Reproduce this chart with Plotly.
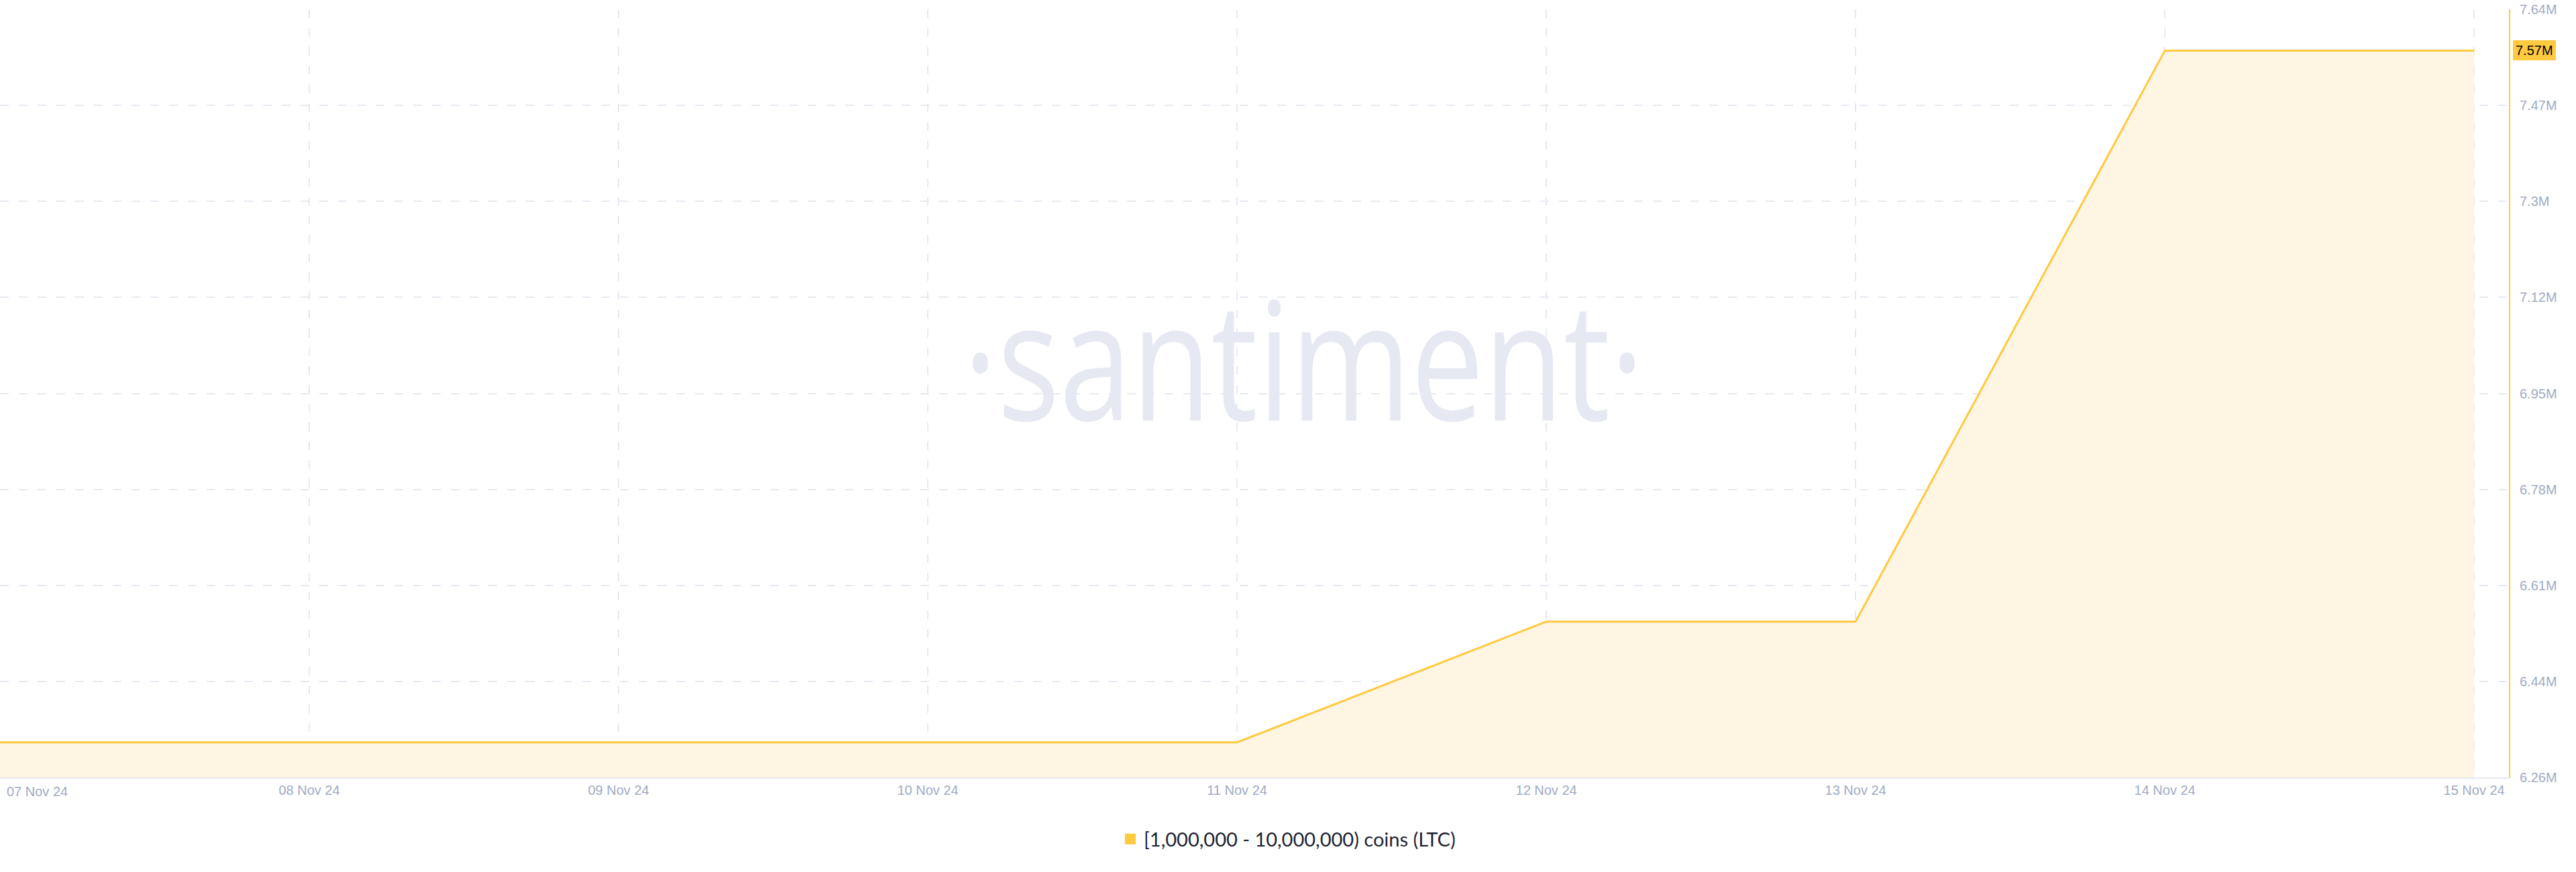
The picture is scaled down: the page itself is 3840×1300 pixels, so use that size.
import plotly.graph_objects as go

# ---- data ----
dates = ["2024-11-07", "2024-11-08", "2024-11-09", "2024-11-10", "2024-11-11",
         "2024-11-12", "2024-11-13", "2024-11-14", "2024-11-15"]
holders = [6.323e6, 6.323e6, 6.323e6, 6.323e6, 6.323e6,
           6.540e6, 6.540e6, 7.566e6, 7.566e6]
series_name = "[1,000,000 - 10,000,000) coins (LTC)"
last_label = "7.57M"

y_tick_vals = [6.26e6, 6.4325e6, 6.605e6, 6.7775e6, 6.95e6, 7.1225e6, 7.295e6, 7.4675e6, 7.64e6]
y_tick_text = ["6.26M", "6.44M", "6.61M", "6.78M", "6.95M", "7.12M", "7.3M", "7.47M", "7.64M"]
x_tick_vals = dates
x_tick_text = ["", "08 Nov 24", "09 Nov 24", "10 Nov 24", "11 Nov 24",
               "12 Nov 24", "13 Nov 24", "14 Nov 24", "15 Nov 24"]
first_tick_text = "07 Nov 24"

# ---- style ----
GOLD = "#FFC940"
FILL = "#FEF5E2"
GRID = "#E6E9F2"
TICK = "#A0AAC4"
TICK_FONT = "Liberation Sans, Arial, sans-serif"

fig = go.Figure()
fig.add_trace(go.Scatter(
    x=dates, y=holders, mode="lines",
    line=dict(color=GOLD, width=3),
    fill="tozeroy", fillcolor=FILL,
    showlegend=False, hoverinfo="skip",
))
fig.add_trace(go.Scatter(
    x=[None], y=[None], mode="markers",
    marker=dict(symbol="square", size=18, color=GOLD),
    name=series_name, showlegend=True,
))

fig.update_layout(
    width=3840, height=1300,
    paper_bgcolor="white", plot_bgcolor="white",
    margin=dict(l=0, r=100, t=14, b=141),
    showlegend=True,
    legend=dict(
        orientation="h", xref="container", yref="container",
        x=0.5, xanchor="center", y=1 - 1251 / 1300, yanchor="middle",
        font=dict(family="Lato, sans-serif", size=29, color="#1F2433"),
        itemsizing="trace",
    ),
    xaxis=dict(
        type="date",
        range=["2024-11-07 00:00", "2024-11-15 02:42"],
        tickvals=x_tick_vals, ticktext=x_tick_text,
        showgrid=True, gridcolor=GRID, gridwidth=2, griddash="13px,15px",
        showline=True, linecolor="#E3E7F0", linewidth=2,
        ticks="", tickfont=dict(family=TICK_FONT, size=20, color=TICK),
        zeroline=False,
    ),
    yaxis=dict(
        side="right",
        range=[6.26e6, 7.64e6],
        tickvals=y_tick_vals, ticktext=y_tick_text,
        showgrid=True, gridcolor=GRID, gridwidth=2, griddash="13px,15px",
        showline=True, linecolor=GOLD, linewidth=2,
        ticks="", ticklabelstandoff=10,
        tickfont=dict(family=TICK_FONT, size=20, color=TICK),
        zeroline=False,
    ),
)

# first date label, kept inside the figure
fig.add_annotation(
    x=dates[0], xref="x", y=0, yref="paper", yshift=-8,
    text=first_tick_text, showarrow=False,
    xanchor="left", yanchor="top", xshift=8,
    font=dict(family=TICK_FONT, size=20, color=TICK),
)

# last-value badge
fig.add_annotation(
    x=1, xref="paper", xshift=6, xanchor="left",
    y=holders[-1], yref="y", yanchor="middle",
    text=last_label, showarrow=False,
    bgcolor=GOLD, borderwidth=0, borderpad=4,
    font=dict(family=TICK_FONT, size=20, color="#000000"),
)

# watermark
fig.add_annotation(
    x=1943 / 3740, xref="paper", y=0.5475, yref="paper",
    xanchor="center", yanchor="middle",
    text="·santiment·", showarrow=False,
    font=dict(family="Open Sans, sans-serif", size=245, color="#E6E9F2"),
)

post = """
document.body.style.margin = '0';
document.body.style.padding = '0';
var gd = document.getElementById('{plot_id}');
function fixWM(){
  var texts = gd.querySelectorAll('g.annotation text');
  texts.forEach(function(t){
    if (t.textContent.indexOf('santiment') >= 0) {
      t.removeAttribute('transform');
      var bb = t.getBBox();
      var cx = bb.x + bb.width/2;
      var s = 1015 / bb.width;
      t.setAttribute('transform', 'translate(' + cx + ',0) scale(' + s + ',1) translate(' + (-cx) + ',0)');
    }
  });
}
fixWM();
"""

fig.write_html("out.html", post_script=post, config={"displayModeBar": False})
